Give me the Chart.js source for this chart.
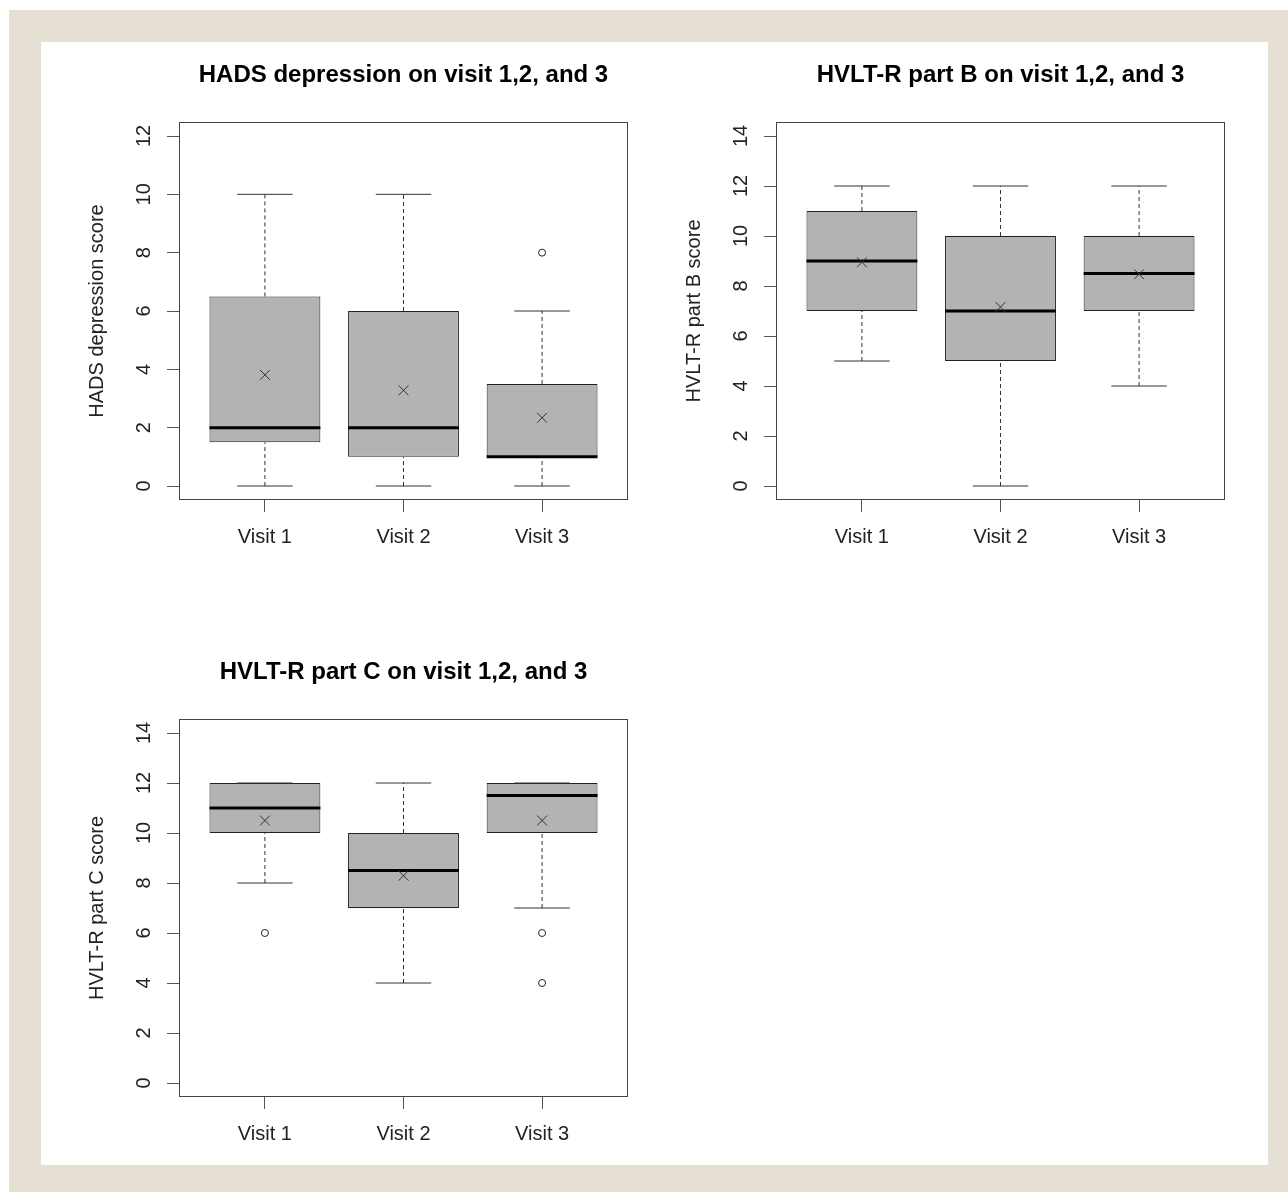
<!DOCTYPE html>
<html>
<head>
<meta charset="utf-8">
<title>HADS depression and HVLT-R scores on visit 1, 2 and 3</title>
<script src="https://cdn.jsdelivr.net/npm/chart.js@4.4.1/dist/chart.umd.min.js"></script>
<style>
  body { margin: 0; width: 1288px; height: 1192px; position: relative; background: #fff; overflow: hidden; }
  #bg { position: absolute; left: 9px; top: 10px; width: 1279px; height: 1182px; background: #e6dfd3; }
  #panel { position: absolute; left: 41px; top: 42px; width: 1227px; height: 1123px; background: #fff; }
  canvas { position: absolute; }
</style>
</head>
<body>
<div id="bg"></div>
<div id="panel"></div>
<canvas id="hads" width="620" height="520" style="left:41px;top:42px"></canvas>
<canvas id="partB" width="620" height="520" style="left:638px;top:42px"></canvas>
<canvas id="partC" width="620" height="520" style="left:41px;top:639px"></canvas>
<script>
const visits = ['Visit 1', 'Visit 2', 'Visit 3']

// HADS depression score
const hadsLow = [0, 0, 0]
const hadsQ1 = [1.5, 1, 1]
const hadsMedian = [2, 2, 1]
const hadsQ3 = [6.5, 6, 3.5]
const hadsHigh = [10, 10, 6]
const hadsMean = [3.81, 3.28, 2.34]
const hadsOutliers = [[], [], [8]]
const hadsYTicks = [0, 2, 4, 6, 8, 10, 12]

// HVLT-R part B score
const partBLow = [5, 0, 4]
const partBQ1 = [7, 5, 7]
const partBMedian = [9, 7, 8.5]
const partBQ3 = [11, 10, 10]
const partBHigh = [12, 12, 12]
const partBMean = [8.95, 7.16, 8.47]
const partBOutliers = [[], [], []]
const partBYTicks = [0, 2, 4, 6, 8, 10, 12, 14]

// HVLT-R part C score
const partCLow = [8, 4, 7]
const partCQ1 = [10, 7, 10]
const partCMedian = [11, 8.5, 11.5]
const partCQ3 = [12, 10, 12]
const partCHigh = [12, 12, 12]
const partCMean = [10.5, 8.29, 10.5]
const partCOutliers = [[6], [], [6, 4]]
const partCYTicks = [0, 2, 4, 6, 8, 10, 12, 14]

const family = "'Liberation Sans', Arial, Helvetica, sans-serif"
Chart.defaults.font.family = family

// box outline around the plot region, like R's bty = "o"
const framePlugin = {
  id: 'frame',
  afterDatasetsDraw(chart) {
    const { ctx, chartArea: a } = chart
    ctx.save()
    ctx.strokeStyle = '#444'
    ctx.lineWidth = 1
    ctx.strokeRect(a.left + 0.5, a.top + 0.5, a.right - a.left - 1, a.bottom - a.top - 1)
    ctx.restore()
  }
}

function segment(points, width, dash, color, order) {
  return {
    type: 'line',
    data: points,
    borderColor: color,
    borderWidth: width,
    borderDash: dash,
    pointRadius: 0,
    fill: false,
    order: order
  }
}

function boxChart(id, title, yTitle, s, yTicks) {
  const ext = (yTicks[yTicks.length - 1] - yTicks[0]) * 0.04
  const datasets = []

  datasets.push({
    type: 'bar',
    data: visits.map((v, i) => ({ x: i + 1, y: [s.q1[i], s.q3[i]] })),
    backgroundColor: '#b3b3b3',
    borderColor: '#222',
    borderWidth: 1,
    borderSkipped: false,
    barPercentage: 0.8,
    categoryPercentage: 1,
    order: 10
  })

  visits.forEach((v, i) => {
    const x = i + 1
    datasets.push(segment([{ x: x, y: s.q3[i] }, { x: x, y: s.high[i] }], 1, [4, 3], '#333', 9))
    datasets.push(segment([{ x: x, y: s.low[i] }, { x: x, y: s.q1[i] }], 1, [4, 3], '#333', 9))
    datasets.push(segment([{ x: x - 0.2, y: s.high[i] }, { x: x + 0.2, y: s.high[i] }], 1, [], '#333', 9))
    datasets.push(segment([{ x: x - 0.2, y: s.low[i] }, { x: x + 0.2, y: s.low[i] }], 1, [], '#333', 9))
    datasets.push(segment([{ x: x - 0.4, y: s.median[i] }, { x: x + 0.4, y: s.median[i] }], 3, [], '#000', 3))
  })

  datasets.push({
    type: 'scatter',
    data: visits.map((v, i) => ({ x: i + 1, y: s.mean[i] })),
    pointStyle: 'crossRot',
    pointRadius: 7,
    borderColor: '#333',
    borderWidth: 1,
    order: 1
  })

  datasets.push({
    type: 'scatter',
    data: s.outliers.flatMap((list, i) => list.map(y => ({ x: i + 1, y: y }))),
    pointStyle: 'circle',
    pointRadius: 3.5,
    backgroundColor: 'rgba(0,0,0,0)',
    borderColor: '#222',
    borderWidth: 1,
    order: 1
  })

  return new Chart(document.getElementById(id), {
    type: 'bar',
    data: { datasets: datasets },
    plugins: [framePlugin],
    options: {
      responsive: false,
      animation: false,
      events: [],
      devicePixelRatio: 1,
      layout: { padding: { left: 0, right: 33, top: 0, bottom: 0 } },
      plugins: {
        legend: { display: false },
        tooltip: { enabled: false },
        title: {
          display: true,
          text: title,
          fullSize: false,
          color: '#000',
          font: { size: 24, weight: 'bold', family: family, lineHeight: 1.2 },
          padding: { top: 18.6, bottom: 32.6 }
        }
      },
      scales: {
        x: {
          type: 'linear',
          min: 0.38,
          max: 3.62,
          offset: false,
          afterBuildTicks: sc => { sc.ticks = visits.map((v, i) => ({ value: i + 1 })) },
          afterFit: sc => { sc.height = 62 },
          ticks: {
            callback: (val, i) => visits[i],
            color: '#222',
            font: { size: 20, family: family },
            padding: 13,
            maxRotation: 0,
            autoSkip: false
          },
          grid: { offset: false, drawOnChartArea: false, drawTicks: true, tickLength: 12, color: '#555' },
          border: { display: false }
        },
        y: {
          type: 'linear',
          beginAtZero: false,
          min: yTicks[0] - ext,
          max: yTicks[yTicks.length - 1] + ext,
          afterBuildTicks: sc => { sc.ticks = yTicks.map(v => ({ value: v })) },
          afterFit: sc => { sc.width = 138 },
          ticks: {
            minRotation: 90,
            maxRotation: 90,
            crossAlign: 'center',
            padding: 11,
            autoSkip: false,
            color: '#222',
            font: { size: 20, family: family }
          },
          title: {
            display: true,
            text: yTitle,
            color: '#222',
            font: { size: 20, family: family, lineHeight: 1.2 },
            padding: { top: 44, bottom: 0 }
          },
          grid: { drawOnChartArea: false, drawTicks: true, tickLength: 12, color: '#555' },
          border: { display: false }
        }
      }
    }
  })
}

boxChart('hads', 'HADS depression on visit 1,2, and 3', 'HADS depression score', {
  low: hadsLow, q1: hadsQ1, median: hadsMedian, q3: hadsQ3, high: hadsHigh, mean: hadsMean, outliers: hadsOutliers
}, hadsYTicks)

boxChart('partB', 'HVLT-R part B on visit 1,2, and 3', 'HVLT-R part B score', {
  low: partBLow, q1: partBQ1, median: partBMedian, q3: partBQ3, high: partBHigh, mean: partBMean, outliers: partBOutliers
}, partBYTicks)

boxChart('partC', 'HVLT-R part C on visit 1,2, and 3', 'HVLT-R part C score', {
  low: partCLow, q1: partCQ1, median: partCMedian, q3: partCQ3, high: partCHigh, mean: partCMean, outliers: partCOutliers
}, partCYTicks)
</script>
</body>
</html>
